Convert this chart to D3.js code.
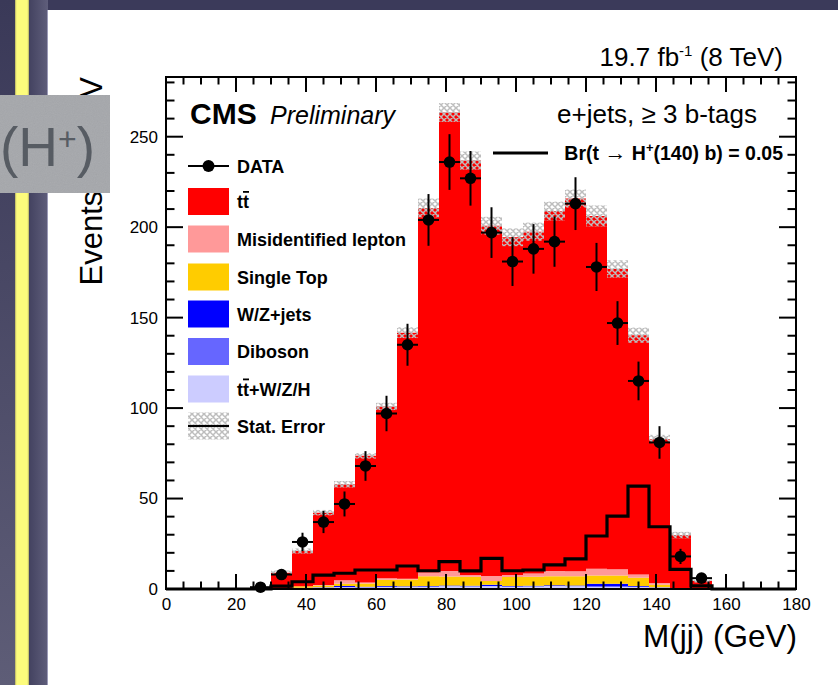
<!DOCTYPE html>
<html>
<head>
<meta charset="utf-8">
<script src="https://cdn.jsdelivr.net/npm/d3@7"></script>
<style>
  html, body { margin: 0; padding: 0; background: #fff; }
  svg { display: block; }
  text { font-family: "Liberation Sans", Arial, Helvetica, sans-serif; }
</style>
</head>
<body>
<svg id="chart" width="838" height="685"></svg>
<script>
// ---------------- DATA ----------------
const binWidth = 6;
const binCenters = [27,33,39,45,51,57,63,69,75,81,87,93,99,105,111,117,123,129,135,141,147,153];
const dataCounts = [1,8,26,37,47,68,97,135,204,236,227,197,181,188,192,213,178,147,115,81,18,6];
const dataErrors = [1,2.8,5.1,6.1,6.9,8.2,9.8,11.6,14.3,15.4,15.1,14,13.5,13.7,13.9,14.6,13.3,12.1,10.7,9,4.2,2.4];
const ttV       = [0,0.3,0.5,0.8,1,1,1.2,1.2,1.3,1.5,1.4,1.5,1.3,1.4,1.6,1.5,1.3,1.3,1.2,0.8,0.5,0.2];
const diboson   = [0,0,0,0,0.1,0,0.1,0.1,0.1,0.1,0.1,0.1,0.1,0.1,0.1,0.1,0.1,0.1,0.1,0,0,0];
const wzJets    = [0,0,0.2,0.2,0.5,0.3,0.3,0.2,0.2,0.3,0.3,0.8,0.3,0.3,0.4,0.4,1.5,1.5,0.3,0.2,0,0];
const singleTop = [0,0.2,0.8,1,1.3,1.8,3.5,3.7,5.5,5,5,2,5,5,5,5,4.6,4.5,4.6,1.3,0,0];
const misID     = [0,0,0,0.2,2,0.5,0.8,0.5,2,3,1,2.8,1,1.7,2.8,2.8,3.7,3.5,1.8,1,0,0];
const ttbar     = [0,8.5,19.5,40,53,70,95,136,201.5,253.5,229,193.6,186.7,189,199,206,195,166,132.3,79.6,29.3,4.2];
const statErr   = [0,1.2,1.4,1.5,1.8,1.5,2,3,5.2,5.2,5,4.9,4.9,5,5.2,5,5.8,4.8,4.2,2.3,1.8,0.8];
const signal    = [0,1.6,4,7.7,8.7,10.5,10.5,12.7,10.1,15.1,10,16.9,10.1,10.5,13.3,16.6,29.3,40.3,56.9,34.4,10.9,1.7];
const xTicks = [0,20,40,60,80,100,120,140,160,180];
const yTicks = [0,50,100,150,200,250];
const legendLabels = ["DATA","tt̄","Misidentified lepton","Single Top","W/Z+jets","Diboson","tt̄+W/Z/H","Stat. Error"];

// ---------------- SETUP ----------------
const svg = d3.select("#chart");
const defs = svg.append("defs");

// slide background
const gL = defs.append("linearGradient").attr("id","darkL").attr("x1",0).attr("x2",0).attr("y1",0).attr("y2",1);
gL.append("stop").attr("offset","0%").attr("stop-color","#3a3958");
gL.append("stop").attr("offset","100%").attr("stop-color","#5e5d77");
const gR = defs.append("linearGradient").attr("id","darkR").attr("x1",0).attr("x2",1).attr("y1",0).attr("y2",0);
gR.append("stop").attr("offset","0%").attr("stop-color","#434260");
gR.append("stop").attr("offset","100%").attr("stop-color","#5f5e7b");

svg.append("rect").attr("x",0).attr("y",0).attr("width",838).attr("height",685).attr("fill","#3b3a5a");
svg.append("rect").attr("x",0).attr("y",0).attr("width",15).attr("height",685).attr("fill","url(#darkL)");
svg.append("rect").attr("x",29).attr("y",0).attr("width",19).attr("height",685).attr("fill","url(#darkR)");
svg.append("rect").attr("x",15).attr("y",0).attr("width",14).attr("height",685).attr("fill","#fdfc7c");
svg.append("rect").attr("x",15).attr("y",0).attr("width",1.2).attr("height",685).attr("fill","#c9c56a");
svg.append("rect").attr("x",27.8).attr("y",0).attr("width",1.2).attr("height",685).attr("fill","#c9c56a");
svg.append("rect").attr("x",48).attr("y",10).attr("width",790).attr("height",675).attr("fill","#ffffff");
svg.append("rect").attr("x",47).attr("y",10).attr("width",1).attr("height",675).attr("fill","#9c9bb8");

// hatch pattern
const pat = defs.append("pattern").attr("id","hatch").attr("patternUnits","userSpaceOnUse")
  .attr("width",6).attr("height",6);
pat.append("path").attr("d","M0,0L6,6M6,0L0,6M-1,5L1,7M5,-1L7,1").attr("stroke","#bdbdbd").attr("stroke-width",1.5).attr("fill","none");

// scales
const x = d3.scaleLinear().domain([0,180]).range([166,796]);
const y = d3.scaleLinear().domain([0,283]).range([589,77]);

const plot = svg.append("g");

// stacked components
const keys = ["ttV","diboson","wz","singleTop","misID","ttbar"];
const colors = {ttV:"#ccccff", diboson:"#6666ff", wz:"#0000ff", singleTop:"#ffcc00", misID:"#ff9999", ttbar:"#ff0000"};
const series = {ttV, diboson, wz:wzJets, singleTop, misID, ttbar};
const rows = binCenters.map((c,i) => {
  const r = {c};
  keys.forEach(k => r[k] = series[k][i]);
  return r;
});
const stacked = d3.stack().keys(keys)(rows);

function stepPoints(arr) {
  const pts = [];
  arr.forEach((d,i) => {
    const lo = binCenters[i] - binWidth/2, hi = binCenters[i] + binWidth/2;
    pts.push({x:lo, y0:d[0], y1:d[1]});
    pts.push({x:hi, y0:d[0], y1:d[1]});
  });
  return pts;
}
const area = d3.area().x(d => x(d.x)).y0(d => y(d.y0)).y1(d => y(d.y1));

stacked.forEach(layer => {
  plot.append("path").attr("d", area(stepPoints(layer))).attr("fill", colors[layer.key]);
});

// stat error band
const totals = rows.map(r => keys.reduce((s,k) => s + r[k], 0));
const band = totals.map((t,i) => [Math.max(0,t - statErr[i]), t + statErr[i]]);
binCenters.forEach((c,i) => {
  if (statErr[i] <= 0) return;
  plot.append("rect")
    .attr("x", x(c - binWidth/2)).attr("width", x(c + binWidth/2) - x(c - binWidth/2))
    .attr("y", y(band[i][1])).attr("height", y(band[i][0]) - y(band[i][1]))
    .attr("fill","url(#hatch)");
});

// signal line
const sigPts = [[0,0]];
binCenters.forEach((c,i) => sigPts.push([c - binWidth/2, signal[i]]));
sigPts.push([binCenters[binCenters.length-1] + binWidth/2, 0]);
sigPts.push([180,0]);
const line = d3.line().x(d => x(d[0])).y(d => y(d[1])).curve(d3.curveStepAfter);
plot.append("path").attr("d", line(sigPts)).attr("fill","none").attr("stroke","#000").attr("stroke-width",3.2);

// data points
const dg = plot.append("g");
binCenters.forEach((c,i) => {
  const v = dataCounts[i], e = dataErrors[i];
  dg.append("line").attr("x1",x(c - binWidth/2)).attr("x2",x(c + binWidth/2)).attr("y1",y(v)).attr("y2",y(v))
    .attr("stroke","#000").attr("stroke-width",2);
  dg.append("line").attr("x1",x(c)).attr("x2",x(c)).attr("y1",y(Math.max(0,v-e))).attr("y2",y(v+e))
    .attr("stroke","#000").attr("stroke-width",2);
  dg.append("circle").attr("cx",x(c)).attr("cy",y(v)).attr("r",5.8).attr("fill","#000");
});

// frame and ticks
const fr = svg.append("g");
fr.append("rect").attr("x",x(0)).attr("y",y(283)).attr("width",x(180)-x(0)).attr("height",y(0)-y(283))
  .attr("fill","none").attr("stroke","#000").attr("stroke-width",2);
const xMinor = d3.range(0,181,5);
xMinor.forEach(t => {
  const major = t % 20 === 0;
  const len = major ? 15 : 7.5;
  fr.append("line").attr("x1",x(t)).attr("x2",x(t)).attr("y1",y(0)).attr("y2",y(0)-len).attr("stroke","#000").attr("stroke-width",2);
  fr.append("line").attr("x1",x(t)).attr("x2",x(t)).attr("y1",y(283)).attr("y2",y(283)+len).attr("stroke","#000").attr("stroke-width",2);
});
const yMinor = d3.range(0,281,10);
yMinor.forEach(t => {
  const major = t % 50 === 0;
  const len = major ? 17 : 8.5;
  fr.append("line").attr("x1",x(0)).attr("x2",x(0)+len).attr("y1",y(t)).attr("y2",y(t)).attr("stroke","#000").attr("stroke-width",2);
  fr.append("line").attr("x1",x(180)).attr("x2",x(180)-len).attr("y1",y(t)).attr("y2",y(t)).attr("stroke","#000").attr("stroke-width",2);
});

// axes labels via d3 axes (ticks hidden, labels only)
const xAxis = d3.axisBottom(x).tickValues(xTicks).tickSize(0).tickPadding(0).tickFormat(d3.format("d"));
const gx = svg.append("g").attr("transform",`translate(0,${y(0)})`).call(xAxis);
gx.select(".domain").remove();
gx.selectAll("text").attr("font-size",17).attr("fill","#000").attr("dy",null).attr("y",21)
  .style("font-family",'"Liberation Sans", Arial, sans-serif');
const yAxis = d3.axisLeft(y).tickValues(yTicks).tickSize(0).tickPadding(8).tickFormat(d3.format("d"));
const gy = svg.append("g").attr("transform",`translate(${x(0)},0)`).call(yAxis);
gy.select(".domain").remove();
gy.selectAll("text").attr("font-size",17).attr("fill","#000")
  .style("font-family",'"Liberation Sans", Arial, sans-serif');

// axis titles
svg.append("text").attr("x",797).attr("y",647).attr("text-anchor","end").attr("font-size",31.5).text("M(jj) (GeV)");
svg.append("text").attr("transform","translate(102,77) rotate(-90)").attr("text-anchor","end").attr("font-size",31)
  .text("Events / 6 GeV");

// top texts
const lum = svg.append("text").attr("x",783).attr("y",66).attr("text-anchor","end").attr("font-size",26);
lum.append("tspan").text("19.7 fb");
lum.append("tspan").attr("font-size",15).attr("dy",-10).text("-1");
lum.append("tspan").attr("dy",10).text(" (8 TeV)");

svg.append("text").attr("x",190).attr("y",124).attr("font-size",30).attr("font-weight","bold").text("CMS");
svg.append("text").attr("x",270).attr("y",124).attr("font-size",25).attr("font-style","italic").text("Preliminary");

svg.append("text").attr("x",757).attr("y",123).attr("text-anchor","end").attr("font-size",26).text("e+jets, ≥ 3 b-tags");

const br = svg.append("text").attr("x",783).attr("y",160).attr("text-anchor","end").attr("font-size",19.5).attr("font-weight","bold");
br.append("tspan").text("Br(t  ");
br.append("tspan").attr("font-size",22).attr("font-weight","normal").text("→");
br.append("tspan").text(" H");
br.append("tspan").attr("font-size",13).attr("dy",-8).text("+");
br.append("tspan").attr("dy",8).text("(140) b) = 0.05");
svg.append("line").attr("x1",493).attr("x2",548).attr("y1",153).attr("y2",153).attr("stroke","#000").attr("stroke-width",3);

// legend
const lg = svg.append("g");
const legY = [166,201.5,239,277,314,351.5,389,426];
const legFill = [null, colors.ttbar, colors.misID, colors.singleTop, colors.wz, colors.diboson, colors.ttV, "url(#hatch)"];
legendLabels.forEach((lab,i) => {
  const cy = legY[i];
  if (i === 0) {
    lg.append("line").attr("x1",188).attr("x2",229).attr("y1",cy).attr("y2",cy).attr("stroke","#000").attr("stroke-width",2);
    lg.append("circle").attr("cx",208.5).attr("cy",cy).attr("r",6).attr("fill","#000");
  } else {
    lg.append("rect").attr("x",188).attr("y",cy-13.5).attr("width",41).attr("height",27).attr("fill",legFill[i]);
    if (i === 7) {
      lg.append("line").attr("x1",188).attr("x2",229).attr("y1",cy).attr("y2",cy).attr("stroke","#000").attr("stroke-width",2);
    }
  }
  const t = lg.append("text").attr("x",237).attr("y",cy+6.5).attr("font-size",18).attr("font-weight","bold");
  if (lab.startsWith("tt̄")) {
    t.append("tspan").text("t");
    t.append("tspan").style("text-decoration","overline").text("t");
    t.append("tspan").text(lab.slice(3));
  } else {
    t.text(lab);
  }
});

// (H+) overlay box
defs.append("filter").attr("id","noise").html(
  '<feTurbulence type="fractalNoise" baseFrequency="0.9" numOctaves="2" result="n"/>' +
  '<feColorMatrix type="saturate" values="0"/>' +
  '<feComponentTransfer><feFuncA type="table" tableValues="0 0.12"/></feComponentTransfer>' +
  '<feComposite in2="SourceGraphic" operator="in"/>');
svg.append("rect").attr("x",0).attr("y",95).attr("width",110).attr("height",98).attr("fill","#a5a7ab");
svg.append("rect").attr("x",0).attr("y",95).attr("width",110).attr("height",98).attr("fill","#a5a7ab").attr("filter","url(#noise)");
const ht = svg.append("text").attr("x",0).attr("y",166).attr("font-size",55).attr("fill","#575c63");
ht.append("tspan").text("(H");
ht.append("tspan").attr("font-size",32).attr("dy",-16).text("+");
ht.append("tspan").attr("dy",16).text(")");
</script>
</body>
</html>
